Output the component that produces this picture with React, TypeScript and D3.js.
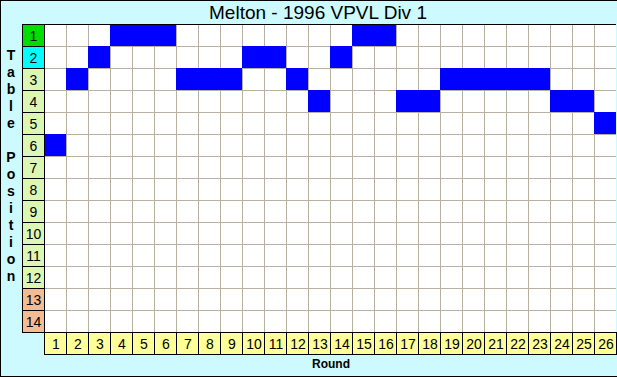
import React from "react";
import * as d3 from "d3";

const rounds = d3.range(1, 27);
const positions = [6, 3, 2, 1, 1, 1, 3, 3, 3, 2, 2, 3, 4, 2, 1, 1, 4, 4, 3, 3, 3, 3, 3, 4, 4, 5];
const tablePositions = d3.range(1, 15);
const title = "Melton - 1996 VPVL Div 1";
const xTitle = "Round";
const yTitle = "Table Position";

const W = 617;
const H = 377;
const left = 44;
const right = 616;
const top = 24;
const bottom = 332;
const labelW = 22;

const rowColor = (p: number) => {
  if (p === 1) return "#00dd00";
  if (p === 2) return "#00ffff";
  if (p >= 13) return "#f4bc94";
  return "#dcf6b4";
};

export default function App() {
  const x = d3.scaleBand<number>().domain(rounds).range([left, right]);
  const y = d3.scaleBand<number>().domain(tablePositions).range([top, bottom]);
  const font = "Arial, 'Liberation Sans', sans-serif";
  const letters = yTitle.split("");
  return (
    <svg width={W} height={H} style={{ display: "block", position: "absolute", left: 0, top: 0 }}>
      <rect x={0} y={0} width={W} height={H} fill="#ccfaff" />
      <line x1={0.5} y1={0} x2={0.5} y2={H} stroke="#000" />
      <line x1={0} y1={0.5} x2={W} y2={0.5} stroke="#000" />
      <line x1={0} y1={H - 0.5} x2={W} y2={H - 0.5} stroke="#000" />
      <text x={318} y={19} textAnchor="middle" fontFamily={font} fontSize={19} fill="#000">
        {title}
      </text>
      {/* plot background */}
      <rect x={left} y={top} width={right - left} height={bottom - top} fill="#fff" />
      {/* grid */}
      {rounds.map((r) => (
        <line key={"v" + r} x1={x(r)! + 0.5} x2={x(r)! + 0.5} y1={top} y2={bottom} stroke="#b8b0a0" />
      ))}
      {tablePositions.map((p) => (
        <line key={"h" + p} x1={left} x2={right} y1={y(p)! + 0.5} y2={y(p)! + 0.5} stroke="#b8b0a0" />
      ))}
      {/* cells */}
      {positions.map((p, i) => (
        <rect
          key={"c" + i}
          x={x(rounds[i])!}
          y={y(p)!}
          width={x.bandwidth()}
          height={y.bandwidth()}
          fill="#0000ff"
        />
      ))}
      {/* row labels */}
      {tablePositions.map((p) => (
        <g key={"rl" + p}>
          <rect
            x={left - labelW + 0.5}
            y={y(p)! + 0.5}
            width={labelW}
            height={y.bandwidth()}
            fill={rowColor(p)}
            stroke="#000"
          />
          <text
            x={left - labelW / 2 + 0.5}
            y={y(p)! + y.bandwidth() / 2 + 5.5}
            textAnchor="middle"
            fontFamily={font}
            fontSize={14}
            fill="#000"
          >
            {p}
          </text>
        </g>
      ))}
      {/* column labels */}
      {rounds.map((r) => (
        <g key={"cl" + r}>
          <rect
            x={x(r)! + 0.5}
            y={bottom + 0.5}
            width={x.bandwidth()}
            height={22}
            fill="#ffff99"
            stroke="#000"
          />
          <text
            x={x(r)! + x.bandwidth() / 2 + 1}
            y={bottom + 11 + 5.5}
            textAnchor="middle"
            fontFamily={font}
            fontSize={14}
            fill="#000"
          >
            {r}
          </text>
        </g>
      ))}
      <line x1={left - labelW} x2={right} y1={top + 0.5} y2={top + 0.5} stroke="#000" />
      <line x1={left + 0.5} x2={left + 0.5} y1={top} y2={bottom + 22} stroke="#000" />
      <line x1={left} x2={right} y1={bottom + 0.5} y2={bottom + 0.5} stroke="#000" />
      <text x={331} y={368} textAnchor="middle" fontFamily={font} fontSize={12} fontWeight="bold" fill="#000">
        {xTitle}
      </text>
      {letters.map((c, i) => (
        <text
          key={"yl" + i}
          x={11}
          y={60 + i * 17}
          textAnchor="middle"
          fontFamily={font}
          fontSize={14}
          fontWeight="bold"
          fill="#000"
        >
          {c}
        </text>
      ))}
    </svg>
  );
}
